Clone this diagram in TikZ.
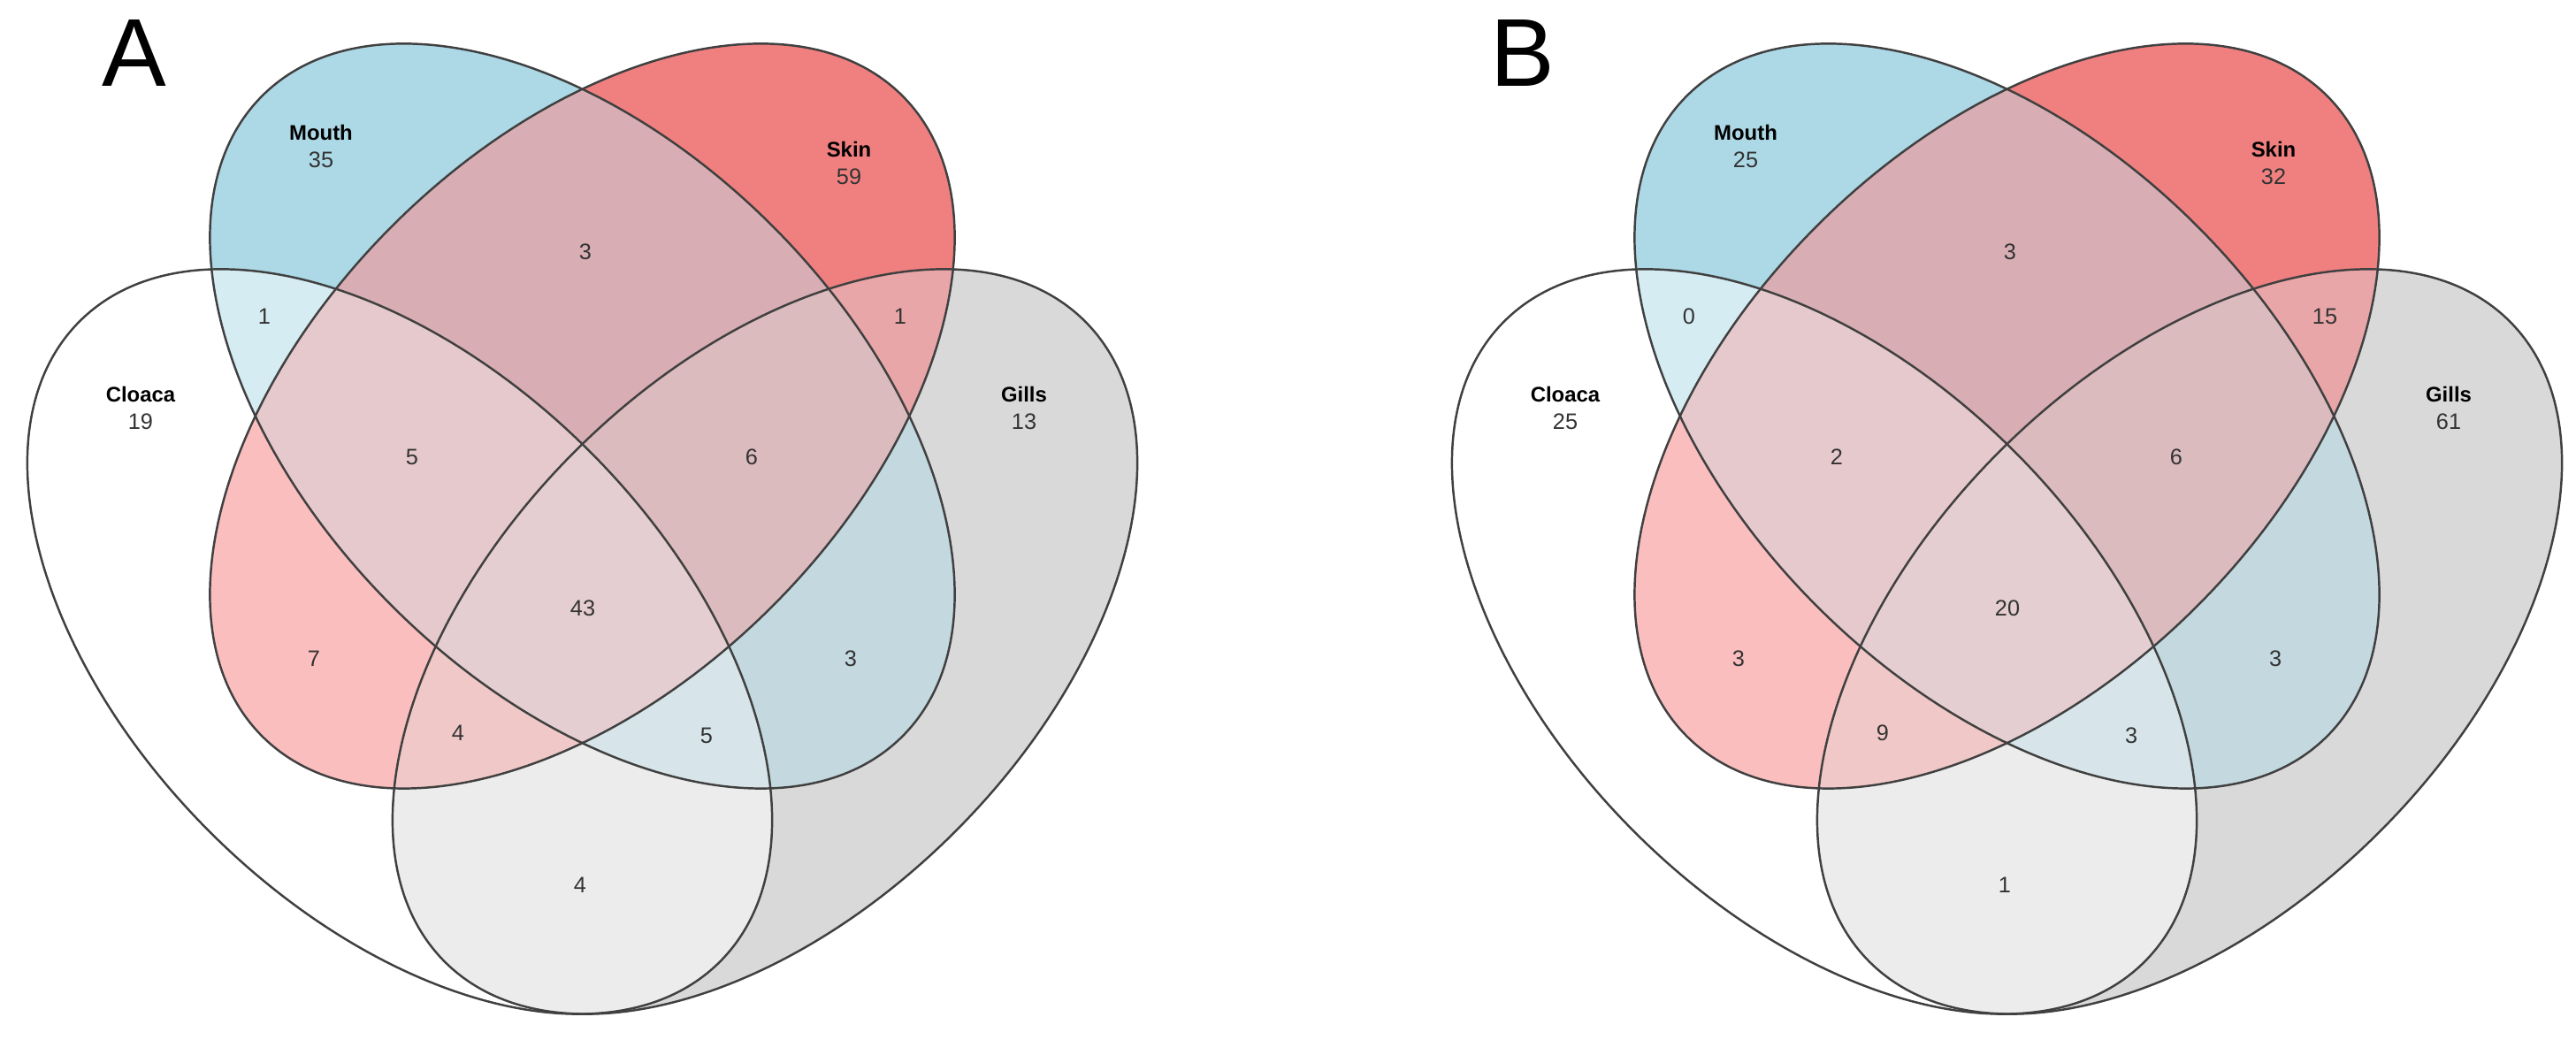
\documentclass[tikz,border=0pt]{standalone}
\usepackage{fontspec}
\setmainfont{Liberation Sans}
\usepackage{xcolor}
\usepackage{tikz}
\usetikzlibrary{positioning}
\definecolor{mouthblue}{RGB}{173,216,230}
\definecolor{skinred}{RGB}{240,128,128}
\definecolor{gillsgrey}{RGB}{217,217,217}
\colorlet{cmfill}{mouthblue!50!white}
\definecolor{csfill}{RGB}{251,190,190}
\colorlet{cgfill}{gillsgrey!50!white}
\definecolor{msfill}{RGB}{216,174,180}
\colorlet{mgfill}{mouthblue!50!gillsgrey}
\definecolor{sgfill}{RGB}{233,166,168}
\definecolor{cmsfill}{RGB}{230,201,204}
\colorlet{cmgfill}{white!33!mgfill}
\definecolor{csgfill}{RGB}{241,200,200}
\definecolor{msgfill}{RGB}{219,187,190}
\definecolor{allfill}{RGB}{229,206,209}
\newcommand{\cloacashape}{(4.52,4.505) ellipse [x radius=5.12, y radius=3.04, rotate=-45]}
\newcommand{\mouthshape}{(6.585,7.055) ellipse [x radius=5.12, y radius=3.04, rotate=-45]}
\newcommand{\skinshape}{(6.585,7.055) ellipse [x radius=5.12, y radius=3.04, rotate=45]}
\newcommand{\gillsshape}{(8.65,4.505) ellipse [x radius=5.12, y radius=3.04, rotate=45]}
% every region gets its own colour: paint by number of sets
\newcommand{\vennregions}{%
  \fill[white] \cloacashape;
  \fill[mouthblue] \mouthshape;
  \fill[skinred] \skinshape;
  \fill[gillsgrey] \gillsshape;
  \begin{scope}\clip \cloacashape; \fill[cmfill] \mouthshape; \fill[csfill] \skinshape; \fill[cgfill] \gillsshape; \end{scope}
  \begin{scope}\clip \mouthshape; \fill[msfill] \skinshape; \fill[mgfill] \gillsshape; \end{scope}
  \begin{scope}\clip \skinshape; \fill[sgfill] \gillsshape; \end{scope}
  \begin{scope}\clip \cloacashape; \clip \mouthshape; \fill[cmsfill] \skinshape; \fill[cmgfill] \gillsshape; \end{scope}
  \begin{scope}\clip \cloacashape; \clip \skinshape; \fill[csgfill] \gillsshape; \end{scope}
  \begin{scope}\clip \mouthshape; \clip \skinshape; \fill[msgfill] \gillsshape; \end{scope}
  \begin{scope}\clip \cloacashape; \clip \mouthshape; \clip \skinshape; \fill[allfill] \gillsshape; \end{scope}
  \draw[vennline] \cloacashape;
  \draw[vennline] \mouthshape;
  \draw[vennline] \skinshape;
  \draw[vennline] \gillsshape;
}
\tikzset{
  vennline/.style={draw=black!75, line width=0.7pt},
  setlabel/.style={font=\fontsize{6.8}{8}\selectfont\bfseries, inner sep=0pt},
  countlabel/.style={font=\fontsize{7.2}{8}\selectfont, text=black!80, inner sep=0pt},
  panellabel/.style={font=\fontsize{31}{31}\selectfont, inner sep=0pt}
}

\begin{document}
\begin{tikzpicture}
  \useasboundingbox (0,0) rectangle (29.13,11.76);
  % panel A
  \begin{scope}
    \vennregions
    \node[panellabel] (lettera) at (1.515,11.16) {A};
    \node[setlabel] (moutha) at (3.63,10.26) {Mouth};
    \node[countlabel, below=1.2mm of moutha] (moutha-n) {35};
    \node[setlabel] (skina) at (9.60,10.07) {Skin};
    \node[countlabel, below=1.2mm of skina] (skina-n) {59};
    \node[setlabel] (cloacaa) at (1.59,7.30) {Cloaca};
    \node[countlabel, below=1.2mm of cloacaa] (cloacaa-n) {19};
    \node[setlabel] (gillsa) at (11.58,7.30) {Gills};
    \node[countlabel, below=1.2mm of gillsa] (gillsa-n) {13};
    \foreach \reg/\x/\y/\val in {ms/6.62/8.91/3, cm/2.99/8.18/1, sg/10.18/8.18/1,
        cms/4.66/6.59/5, msg/8.50/6.59/6, all/6.59/4.88/43, cs/3.55/4.31/7,
        mg/9.62/4.31/3, csg/5.18/3.47/4, cmg/7.99/3.44/5, cg/6.56/1.75/4}
      \node[countlabel] (a-\reg) at (\x,\y) {\val};
  \end{scope}
  % panel B
  \begin{scope}[xshift=16.11cm]
    \vennregions
    \node[panellabel] (letterb) at (1.105,11.16) {B};
    \node[setlabel] (mouthb) at (3.63,10.26) {Mouth};
    \node[countlabel, below=1.2mm of mouthb] (mouthb-n) {25};
    \node[setlabel] (skinb) at (9.60,10.07) {Skin};
    \node[countlabel, below=1.2mm of skinb] (skinb-n) {32};
    \node[setlabel] (cloacab) at (1.59,7.30) {Cloaca};
    \node[countlabel, below=1.2mm of cloacab] (cloacab-n) {25};
    \node[setlabel] (gillsb) at (11.58,7.30) {Gills};
    \node[countlabel, below=1.2mm of gillsb] (gillsb-n) {61};
    \foreach \reg/\x/\y/\val in {ms/6.62/8.91/3, cm/2.99/8.18/0, sg/10.18/8.18/15,
        cms/4.66/6.59/2, msg/8.50/6.59/6, all/6.59/4.88/20, cs/3.55/4.31/3,
        mg/9.62/4.31/3, csg/5.18/3.47/9, cmg/7.99/3.44/3, cg/6.56/1.75/1}
      \node[countlabel] (b-\reg) at (\x,\y) {\val};
  \end{scope}
\end{tikzpicture}
\end{document}
